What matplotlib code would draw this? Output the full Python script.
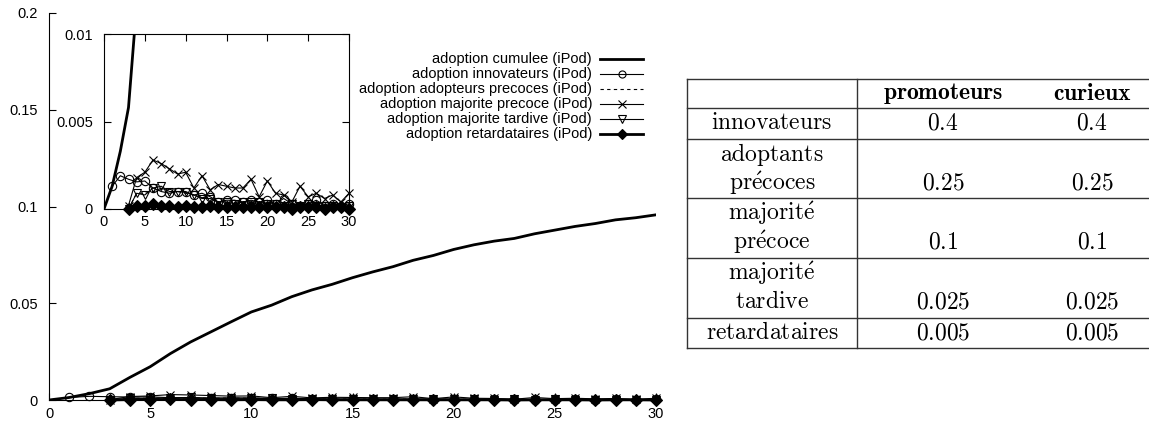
import matplotlib
matplotlib.use('Agg')
import matplotlib.pyplot as plt

plt.rcParams['font.family'] = ['Liberation Sans', 'DejaVu Sans']
plt.rcParams['mathtext.fontset'] = 'cm'

# données
jours = list(range(0, 31))
cumulee = [0, 0.0013, 0.0033, 0.0058, 0.0117, 0.0172, 0.024, 0.030, 0.0352, 0.0404,
           0.0455, 0.049, 0.0534, 0.0569, 0.0598, 0.0632, 0.0662, 0.0689, 0.0722, 0.0747,
           0.0778, 0.0802, 0.0821, 0.0835, 0.0859, 0.0878, 0.0897, 0.0912, 0.0931, 0.0942, 0.0957]

jours_innov = list(range(1, 31))
innovateurs = [0.0013, 0.0019, 0.0017, 0.00155, 0.0016, 0.0012, 0.001, 0.0009, 0.001, 0.00095,
               0.0008, 0.0009, 0.0007, 0.0004, 0.0005, 0.0005, 0.0004, 0.0005, 0.0004, 0.0005,
               0.0003, 0.0006, 0.0003, 0.0002, 0.0003, 0.0005, 0.0002, 0.0003, 0.0002, 0.0003]

jours_autres = list(range(3, 31))
adopteurs_precoces = [0, 0.0009, 0.0009, 0.001, 0.0011, 0.0009, 0.001, 0.0009, 0.0008, 0.0007,
                      0.0006, 0.0004, 0.0005, 0.0004, 0.0004, 0.0004, 0.0003, 0.0004, 0.0003, 0.0003,
                      0.0002, 0.0003, 0.0002, 0.0003, 0.0002, 0.0002, 0.0001, 0.0002]
majorite_precoce = [0.0002, 0.0018, 0.0021, 0.0028, 0.0026, 0.0023, 0.002, 0.0021, 0.0012, 0.0019,
                    0.0011, 0.0014, 0.0013, 0.0012, 0.0012, 0.0017, 0.0007, 0.0016, 0.0009, 0.0008,
                    0.0004, 0.0013, 0.0007, 0.0009, 0.0006, 0.0008, 0.0004, 0.0009]
majorite_tardive = [0, 0.0009, 0.0008, 0.0012, 0.0013, 0.001, 0.001, 0.001, 0.0008, 0.0006,
                    0.0006, 0.0004, 0.0004, 0.0003, 0.0004, 0.0004, 0.0004, 0.0003, 0.0003, 0.0002,
                    0.0003, 0.0002, 0.0003, 0.0002, 0.0002, 0.0002, 0.0001, 0.0002]
retardataires = [0, 0.0002, 0.0002, 0.0003, 0.0002, 0.0002, 0.0001, 0.0002, 0.0001, 0.0001,
                 0.0002, 0.0001, 0.0001, 0.0001, 0.0001, 0.0001, 0.0001, 0.0001, 0.0001, 0.0001,
                 0.0, 0.0001, 0.0001, 0.0001, 0.0, 0.0001, 0.0001, 0.0]

# tableau
entetes = ['promoteurs', 'curieux']
categories = [['innovateurs'], ['adoptants', r'pr\acute{e}coces'], [r'majorit\acute{e}', r'pr\acute{e}coce'],
              [r'majorit\acute{e}', 'tardive'], ['retardataires']]
val_promoteurs = ['0.4', '0.25', '0.1', '0.025', '0.005']
val_curieux = ['0.4', '0.25', '0.1', '0.025', '0.005']

series = [
    ('adoption cumulee (iPod)', jours, cumulee, dict(lw=2.0, ls='-', marker=None)),
    ('adoption innovateurs (iPod)', jours_innov, innovateurs,
     dict(lw=0.8, ls='-', marker='o', ms=6, mfc='none', mew=0.8)),
    ('adoption adopteurs precoces (iPod)', jours_autres, adopteurs_precoces, dict(lw=0.8, ls=(0, (3, 3)), marker=None)),
    ('adoption majorite precoce (iPod)', jours_autres, majorite_precoce,
     dict(lw=0.8, ls='-', marker='x', ms=6, mew=0.8)),
    ('adoption majorite tardive (iPod)', jours_autres, majorite_tardive,
     dict(lw=0.8, ls='-', marker='v', ms=6, mfc='none', mew=0.8)),
    ('adoption retardataires (iPod)', jours_autres, retardataires,
     dict(lw=2.0, ls='-', marker='D', ms=6.2, mfc='black', mew=0.8)),
]

W, H = 1149, 426
fig = plt.figure(figsize=(W / 100, H / 100), dpi=100)

# axe "pixels" pour la légende et le tableau
pix = fig.add_axes([0, 0, 1, 1])
pix.set_xlim(0, W)
pix.set_ylim(H, 0)
pix.axis('off')

ax = fig.add_axes([49 / W, 1 - 400 / H, (656 - 49) / W, (400 - 13) / H])
ins = fig.add_axes([104 / W, 1 - 209 / H, (349 - 104) / W, (209 - 34) / H])

for k, (label, x, y, st) in enumerate(series):
    for a in (ax, ins):
        # la courbe cumulée dépasse le cadre de l'encart : on la coupe
        a.plot(x, y, color='black', clip_on=(k == 0), zorder=3, **st)

ax.set_xlim(0, 30)
ax.set_ylim(0, 0.2)
ax.set_xticks(range(0, 31, 5))
ax.set_yticks([0, 0.05, 0.1, 0.15, 0.2])
ax.set_yticklabels(['0', '0.05', '0.1', '0.15', '0.2'])
ax.spines['top'].set_visible(False)
ax.spines['right'].set_visible(False)
ax.tick_params(direction='in', length=5, labelsize=10.5)
ax.tick_params(axis='y', pad=8)
ax.tick_params(axis='x', pad=5)
ax.patch.set_alpha(0)

ins.set_xlim(0, 30)
ins.set_ylim(0, 0.01)
ins.set_xticks(range(0, 31, 5))
ins.set_yticks([0, 0.005, 0.01])
ins.set_yticklabels(['0', '0.005', '0.01'])
ins.tick_params(direction='in', length=5, labelsize=10.5, top=True, right=True)
ins.tick_params(axis='y', pad=8)
ins.tick_params(axis='x', pad=4)

# légende façon gnuplot
for i, (label, x, y, st) in enumerate(series):
    yy = 59 + 15 * i
    pix.text(592, yy, label, ha='right', va='center', fontsize=10.5)
    pix.plot([600, 643], [yy, yy], color='black', lw=st['lw'], ls=st['ls'])
    if st.get('marker'):
        pix.plot([622], [yy], color='black', marker=st['marker'], ms=st['ms'] * 0.85,
                 mfc=st.get('mfc', 'black'), mew=st.get('mew', 0.8))

# tableau
x0, xdiv, x1 = 687, 857, 1160
lignes_h = [79, 108, 139, 198, 258, 318, 348]
for y in lignes_h:
    pix.plot([x0, x1], [y, y], color='#333333', lw=1.0, clip_on=False)
pix.plot([x0, x0], [79, 348], color='#333333', lw=1.0)
pix.plot([xdiv, xdiv], [79, 348], color='#333333', lw=1.0)

fs = 17
pix.text(943, 94, r'$\mathbf{' + entetes[0] + '}$', ha='center', va='center', fontsize=fs)
pix.text(1092, 94, r'$\mathbf{' + entetes[1] + '}$', ha='center', va='center', fontsize=fs)
for i, cat in enumerate(categories):
    top, bot = lignes_h[i + 1], lignes_h[i + 2]
    for j, mot in enumerate(cat):
        yy = top + 15 + 29.5 * j
        pix.text(772, yy, r'$\mathrm{' + mot + '}$', ha='center', va='center', fontsize=fs)
    yv = top + 15 + 29.5 * (len(cat) - 1)
    pix.text(943, yv, r'$\mathrm{' + val_promoteurs[i] + '}$', ha='center', va='center', fontsize=fs)
    pix.text(1092, yv, r'$\mathrm{' + val_curieux[i] + '}$', ha='center', va='center', fontsize=fs)

plt.savefig('out.png', dpi=100)
plt.close(fig)
